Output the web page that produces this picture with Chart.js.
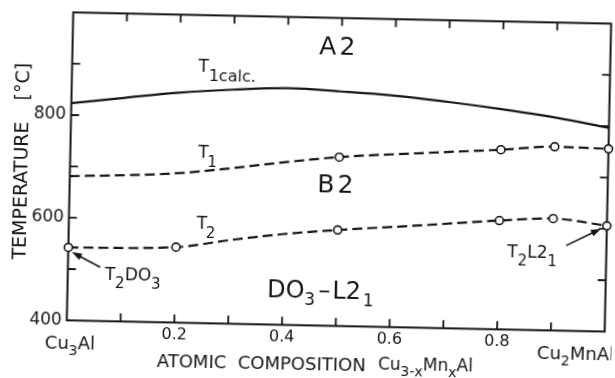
<!DOCTYPE html>
<html>
<head>
<meta charset="utf-8">
<script src="https://cdn.jsdelivr.net/npm/chart.js@4.4.1/dist/chart.umd.min.js"></script>
<style>
  html, body { margin: 0; padding: 0; background: #fff; overflow: hidden; }
  /* the scanned figure sits slightly rotated on the page */
  #chart { display: block; transform: rotate(1.2deg); }
</style>
</head>
<body>
<canvas id="chart" width="615" height="378"></canvas>
<script>
// composition x of Cu(3-x)Mn(x)Al, temperatures in °C
const calcX = [0, 0.1, 0.2, 0.3, 0.4, 0.5, 0.6, 0.7, 0.8, 0.9, 1.0];
const calcT = [823, 836, 848, 856, 861, 857, 851, 841, 829, 815, 797];

const t1X = [0, 0.1, 0.2, 0.3, 0.4, 0.5, 0.65, 0.8, 0.9, 1.0];
const t1T = [681, 685, 691, 703, 717, 729, 740, 750, 758, 756];
const t1Measured = [false, false, false, false, false, true, false, true, true, true];

const t2X = [0, 0.2, 0.3, 0.4, 0.5, 0.65, 0.8, 0.9, 1.0];
const t2T = [542, 547, 563, 577, 587, 599, 612, 618, 606];
const t2Measured = [true, true, false, false, true, false, true, true, true];

const xTicks = [0.2, 0.4, 0.6, 0.8];
const yTicks = [400, 600, 800];
const xMinor = [0.1, 0.2, 0.3, 0.4, 0.5, 0.6, 0.7, 0.8, 0.9];
const yMinor = [500, 600, 700, 800, 900];

const ink = '#161616';
const fam = "'DejaVu Sans', sans-serif";

const pts = (xs, ys) => xs.map((x, i) => ({ x: x, y: ys[i] }));

// draw a run of text pieces: [text, size, dy, gapAfter]
function drawParts(ctx, x, y, parts, align) {
    let w = 0;
    parts.forEach(p => {
        ctx.font = p[1] + 'px ' + fam;
        w += ctx.measureText(p[0]).width + (p[3] || 0);
    });
    let cx = align === 'center' ? x - w / 2 : x;
    ctx.textAlign = 'left';
    ctx.textBaseline = 'alphabetic';
    parts.forEach(p => {
        ctx.font = p[1] + 'px ' + fam;
        ctx.fillText(p[0], cx, y + (p[2] || 0));
        cx += ctx.measureText(p[0]).width + (p[3] || 0);
    });
}

function arrow(ctx, x1, y1, x2, y2) {
    const a = Math.atan2(y2 - y1, x2 - x1);
    const len = 10, half = 3.5;
    ctx.beginPath();
    ctx.moveTo(x1, y1);
    ctx.lineTo(x2 - Math.cos(a) * len * 0.8, y2 - Math.sin(a) * len * 0.8);
    ctx.lineWidth = 1.6;
    ctx.stroke();
    ctx.beginPath();
    ctx.moveTo(x2, y2);
    ctx.lineTo(x2 - Math.cos(a) * len - Math.sin(a) * half, y2 - Math.sin(a) * len + Math.cos(a) * half);
    ctx.lineTo(x2 - Math.cos(a) * len + Math.sin(a) * half, y2 - Math.sin(a) * len - Math.cos(a) * half);
    ctx.closePath();
    ctx.fill();
}

const frame = {
    id: 'frame',
    beforeDatasetsDraw(chart) {
        const { ctx, chartArea: a, scales: { x, y } } = chart;
        ctx.save();
        ctx.strokeStyle = ink;
        ctx.lineWidth = 2;
        ctx.strokeRect(a.left, a.top, a.right - a.left, a.bottom - a.top);
        ctx.lineWidth = 1.8;
        ctx.beginPath();
        xMinor.forEach(v => {
            const px = x.getPixelForValue(v);
            ctx.moveTo(px, a.bottom); ctx.lineTo(px, a.bottom - 8);
            ctx.moveTo(px, a.top); ctx.lineTo(px, a.top + 8);
        });
        yMinor.forEach(v => {
            const py = y.getPixelForValue(v);
            ctx.moveTo(a.left, py); ctx.lineTo(a.left + 8, py);
            ctx.moveTo(a.right, py); ctx.lineTo(a.right - 8, py);
        });
        ctx.stroke();
        ctx.restore();
    },
    afterDatasetsDraw(chart) {
        const { ctx, chartArea: a, scales: { x, y } } = chart;
        const X = v => x.getPixelForValue(v);
        const Y = v => y.getPixelForValue(v);
        ctx.save();
        ctx.fillStyle = ink;
        ctx.strokeStyle = ink;

        // tick labels
        ctx.font = '17px ' + fam;
        ctx.textAlign = 'right';
        ctx.textBaseline = 'middle';
        yTicks.forEach(v => ctx.fillText(String(v), a.left - 5, Y(v)));
        ctx.font = '16px ' + fam;
        ctx.textAlign = 'center';
        xTicks.forEach(v => ctx.fillText(v.toFixed(1), X(v), a.bottom + 12));

        // end compositions and axis titles
        drawParts(ctx, X(-0.04), a.bottom + 29, [['Cu', 18], ['3', 14, 6], ['Al', 18]]);
        drawParts(ctx, X(0.875), a.bottom + 29, [['Cu', 18], ['2', 14, 6], ['MnAl', 18]]);
        drawParts(ctx, X(0.169), a.bottom + 45, [['ATOMIC  COMPOSITION', 18]]);
        drawParts(ctx, X(0.58), a.bottom + 43, [['Cu', 17], ['3-x', 14, 6], ['Mn', 17], ['x', 14, 6], ['Al', 17]]);

        ctx.save();
        ctx.translate(a.left - 48, Y(651));
        ctx.rotate(-Math.PI / 2);
        ctx.font = '19px ' + fam;
        ctx.textAlign = 'center';
        ctx.textBaseline = 'middle';
        ctx.fillText('TEMPERATURE', 0, 0);
        ctx.restore();
        ctx.save();
        ctx.translate(a.left - 48, Y(863));
        ctx.rotate(-Math.PI / 2);
        ctx.font = '19px ' + fam;
        ctx.textAlign = 'center';
        ctx.textBaseline = 'middle';
        ctx.fillText('[°C]', 0, 0);
        ctx.restore();

        // phase fields
        drawParts(ctx, X(0.492), Y(928), [['A', 25, 0, 3], ['2', 25]], 'center');
        drawParts(ctx, X(0.494), Y(659), [['B', 25, 0, 3], ['2', 25]], 'center');
        drawParts(ctx, X(0.371), Y(454), [['DO', 24], ['3', 17, 7, 3], ['–', 24, 0, 2], ['L2', 24, 0, 2], ['1', 17, 7]]);

        // curve labels
        drawParts(ctx, X(0.235), Y(889), [['T', 17], ['1calc.', 16, 9]]);
        drawParts(ctx, X(0.2375), Y(723), [['T', 17, 0, -1], ['1', 15, 9]]);
        drawParts(ctx, X(0.2375), Y(583), [['T', 17, 0, -1], ['2', 15, 9]]);
        drawParts(ctx, X(0.069), Y(481), [['T', 17], ['2', 15, 8], ['DO', 17], ['3', 15, 8]]);
        drawParts(ctx, X(0.816), Y(540), [['T', 17], ['2', 15, 8], ['L2', 17], ['1', 15, 8]]);

        arrow(ctx, X(0.06), Y(505), X(0.007), Y(533));
        arrow(ctx, X(0.925), Y(566), X(0.989), Y(600));
        ctx.restore();
    }
};

const markRadius = flags => c => (flags[c.dataIndex] ? 4 : 0);

new Chart(document.getElementById('chart'), {
    type: 'line',
    data: {
        datasets: [
            {
                label: 'T1 calc.',
                data: pts(calcX, calcT),
                borderColor: ink,
                borderWidth: 2.2,
                pointRadius: 0,
                tension: 0.4,
                clip: false
            },
            {
                label: 'T1',
                data: pts(t1X, t1T),
                borderColor: ink,
                borderWidth: 2.2,
                borderDash: [10, 5],
                cubicInterpolationMode: 'monotone',
                pointRadius: markRadius(t1Measured),
                pointBackgroundColor: '#fff',
                pointBorderColor: ink,
                pointBorderWidth: 1.6,
                clip: false
            },
            {
                label: 'T2',
                data: pts(t2X, t2T),
                borderColor: ink,
                borderWidth: 2.2,
                borderDash: [10, 5],
                cubicInterpolationMode: 'monotone',
                pointRadius: markRadius(t2Measured),
                pointBackgroundColor: '#fff',
                pointBorderColor: ink,
                pointBorderWidth: 1.6,
                clip: false
            }
        ]
    },
    options: {
        responsive: false,
        animation: false,
        layout: { padding: { left: 69.6, right: 7.4, top: 17.35, bottom: 52.65 } },
        plugins: { legend: { display: false }, tooltip: { enabled: false } },
        scales: {
            x: { type: 'linear', min: 0, max: 1, display: false },
            y: { type: 'linear', min: 400, max: 1000, display: false }
        }
    },
    plugins: [frame]
});
</script>
</body>
</html>
